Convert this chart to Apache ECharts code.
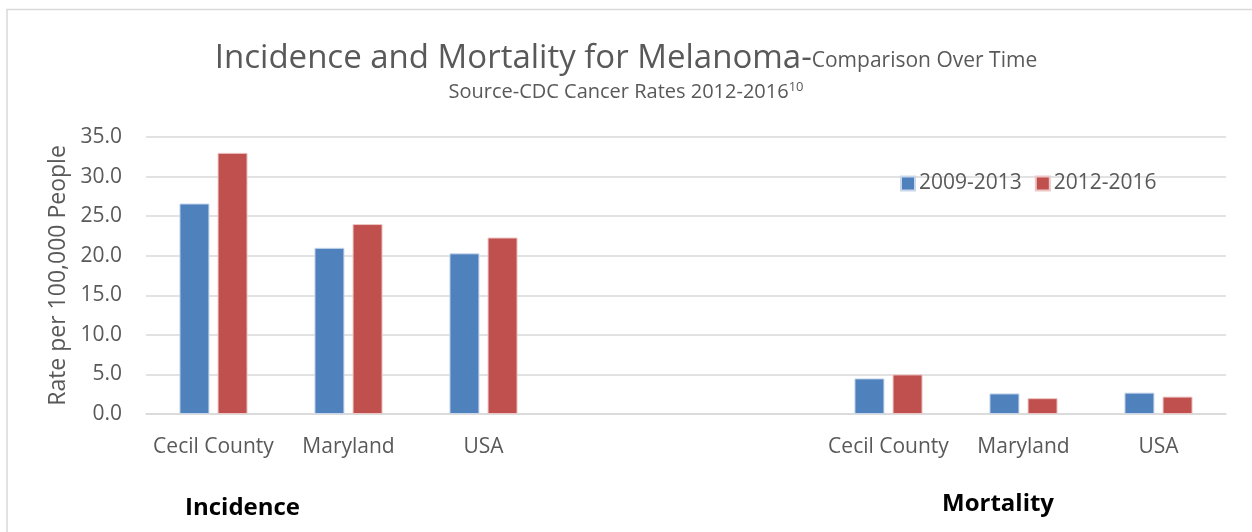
<!DOCTYPE html>
<html>
<head>
<meta charset="utf-8">
<script src="https://cdn.jsdelivr.net/npm/echarts@6/dist/echarts.min.js"></script>
<style>
  html, body { margin: 0; padding: 0; background: #fff; }
  #chart { width: 1252px; height: 532px; }
</style>
</head>
<body>
<div id="chart"></div>
<script>
// Category slots: incidence group, two empty spacer slots, mortality group
const categories = ['Cecil County', 'Maryland', 'USA', '', '', 'Cecil County', 'Maryland', 'USA'];
const seriesNames = ['2009-2013', '2012-2016'];
const rates2009_2013 = [26.6, 21.0, 20.3, null, null, 4.5, 2.6, 2.7];
const rates2012_2016 = [33.0, 24.0, 22.3, null, null, 5.0, 2.0, 2.2];
const yTicks = { min: 0, max: 35, interval: 5 };
const groupLabels = ['Incidence', 'Mortality'];

const FONT = '"Open Sans", "Noto Sans", sans-serif';
const TEXT = '#595959';

const chart = echarts.init(document.getElementById('chart'), null, { renderer: 'canvas' });

chart.setOption({
  backgroundColor: '#fff',
  animation: false,
  title: [{
    text: '{main|Incidence and Mortality for Melanoma-}{sub|Comparison Over Time}',
    left: 'center',
    top: 37,
    textStyle: {
      fontWeight: 'normal',
      rich: {
        main: { fontFamily: FONT, fontSize: 33, fontWeight: 'normal', color: TEXT, verticalAlign: 'bottom' },
        sub: { fontFamily: FONT, fontSize: 21, fontWeight: 'normal', color: TEXT, verticalAlign: 'bottom', padding: [0, 0, 3, 0] }
      }
    },
    subtext: 'Source-CDC Cancer Rates 2012-2016{sup|10}',
    itemGap: 6,
    subtextStyle: {
      fontFamily: FONT, fontSize: 20, color: TEXT,
      rich: { sup: { fontFamily: FONT, fontSize: 13, color: TEXT, verticalAlign: 'top', padding: [0, 0, 9, 0] } }
    }
  }],
  legend: {
    data: seriesNames,
    left: 895,
    top: 168,
    icon: 'rect',
    itemWidth: 14,
    itemHeight: 14,
    itemGap: 13,
    textStyle: { fontFamily: FONT, fontSize: 21, color: TEXT, padding: [0, 0, 0, -1] }
  },
  grid: { left: 146, right: 26, top: 137, bottom: 118, containLabel: false },
  xAxis: {
    type: 'category',
    data: categories,
    axisLine: { show: true, lineStyle: { color: '#d9d9d9', width: 1.5 } },
    axisTick: { show: false },
    axisLabel: { fontFamily: FONT, fontSize: 21, color: TEXT, margin: 23, interval: 0 }
  },
  yAxis: {
    type: 'value',
    min: yTicks.min, max: yTicks.max, interval: yTicks.interval,
    name: 'Rate per 100,000 People',
    nameLocation: 'middle',
    nameGap: 76,
    nameTextStyle: { fontFamily: FONT, fontSize: 23, color: TEXT },
    axisLine: { show: false },
    axisTick: { show: false },
    splitLine: { lineStyle: { color: '#d9d9d9', width: 1.5 } },
    axisLabel: {
      fontFamily: FONT, fontSize: 21, color: TEXT, margin: 24,
      formatter: v => v.toFixed(1)
    }
  },
  graphic: [
    { type: 'rect', shape: { x: 7, y: 9.5, width: 1260, height: 540 },
      style: { fill: 'none', stroke: '#d9d9d9', lineWidth: 1.5 }, silent: true },
    { type: 'text', left: 185, top: 496,
      style: { text: groupLabels[0], font: 'bold 24px ' + FONT, fill: '#000' } },
    { type: 'text', left: 942, top: 492,
      style: { text: groupLabels[1], font: 'bold 24px ' + FONT, fill: '#000' } }
  ],
  series: [
    { name: seriesNames[0], type: 'bar', data: rates2009_2013, barWidth: 30, barGap: '27%',
      itemStyle: { color: '#4f81bd', borderColor: '#c9d7ec', borderWidth: 1 } },
    { name: seriesNames[1], type: 'bar', data: rates2012_2016, barWidth: 30,
      itemStyle: { color: '#c0504d', borderColor: '#ecc7c6', borderWidth: 1 } }
  ]
});
</script>
</body>
</html>
